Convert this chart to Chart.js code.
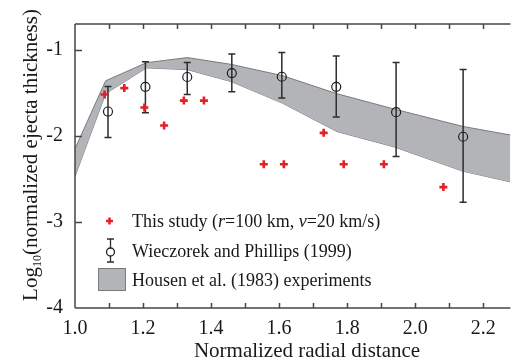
<!DOCTYPE html>
<html>
<head>
<meta charset="utf-8">
<script src="https://cdn.jsdelivr.net/npm/chart.js@4.4.1/dist/chart.umd.min.js"></script>
<style>
html,body{margin:0;padding:0;background:#fff;overflow:hidden;}
#wrap{width:517px;height:362px;position:relative;}
</style>
</head>
<body>
<div id="wrap"><canvas id="c" width="517" height="362"></canvas></div>
<script>
// ---- Data ----
const studyX = [1.087, 1.145, 1.204, 1.262, 1.320, 1.379, 1.555, 1.614, 1.731, 1.790, 1.908, 2.083];
const studyY = [-1.52, -1.445, -1.67, -1.88, -1.59, -1.59, -2.33, -2.33, -1.965, -2.33, -2.33, -2.595];

const wpX    = [1.097, 1.207, 1.330, 1.461, 1.608, 1.768, 1.944, 2.141];
const wpY    = [-1.717, -1.43, -1.316, -1.27, -1.313, -1.43, -1.725, -2.01];
const wpHigh = [-1.427, -1.14, -1.147, -1.05, -1.03, -1.073, -1.147, -1.228];
const wpLow  = [-2.02, -1.73, -1.52, -1.486, -1.56, -1.78, -2.24, -2.77];

const bandX     = [1.0, 1.09, 1.21, 1.33, 1.46, 1.61, 1.77, 1.94, 2.14, 2.28];
const bandUpper = [-2.15, -1.36, -1.15, -1.09, -1.17, -1.30, -1.51, -1.69, -1.89, -1.99];
const bandLower = [-2.47, -1.51, -1.21, -1.23, -1.37, -1.62, -1.95, -2.13, -2.41, -2.535];

const xTickValues = [1.0, 1.2, 1.4, 1.6, 1.8, 2.0, 2.2];
const yTickValues = [-1, -2, -3, -4];

const legendLabels = [
  [["This study (", ""], ["r", "italic"], ["=100 km, ", ""], ["v", "italic"], ["=20 km/s)", ""]],
  [["Wieczorek and Phillips (1999)", ""]],
  [["Housen et al. (1983) experiments", ""]]
];
const xTitle = "Normalized radial distance";
const yTitleParts = ["Log", "10", "(normalized ejecta thickness)"];

// ---- Styles ----
const SERIF = '"Liberation Serif", "Times New Roman", serif';
const RED = 'rgb(228,32,38)';
const BAND_FILL = 'rgb(178,180,183)';
const BAND_EDGE = 'rgb(120,122,125)';
const AXIS = 'rgb(70,70,70)';
const TEXT = 'rgb(25,25,25)';

const pts = (xs, ys) => xs.map((x, i) => ({x: x, y: ys[i]}));

const errorBars = {
  id: 'errorBars',
  beforeDatasetDraw(chart, args) {
    if (args.index !== 1) return;
    const ctx = chart.ctx, xs = chart.scales.x, ys = chart.scales.y;
    ctx.save();
    ctx.strokeStyle = 'rgb(45,45,45)';
    ctx.lineWidth = 1.5;
    wpX.forEach((xv, i) => {
      const px = xs.getPixelForValue(xv);
      const pt = ys.getPixelForValue(wpHigh[i]);
      const pb = ys.getPixelForValue(wpLow[i]);
      ctx.beginPath();
      ctx.moveTo(px, pt); ctx.lineTo(px, pb);
      ctx.moveTo(px - 3.5, pt); ctx.lineTo(px + 3.5, pt);
      ctx.moveTo(px - 3.5, pb); ctx.lineTo(px + 3.5, pb);
      ctx.stroke();
    });
    ctx.restore();
  }
};

const axesAndText = {
  id: 'axesAndText',
  afterDatasetsDraw(chart) {
    const ctx = chart.ctx, a = chart.chartArea, xs = chart.scales.x, ys = chart.scales.y;
    ctx.save();
    ctx.strokeStyle = AXIS;
    ctx.lineWidth = 1.5;
    ctx.beginPath();
    ctx.moveTo(a.left, a.top); ctx.lineTo(a.right, a.top);
    ctx.moveTo(a.left, a.top); ctx.lineTo(a.left, a.bottom);
    ctx.moveTo(a.left, a.bottom); ctx.lineTo(a.right, a.bottom);
    // x minor/major ticks, inward on bottom and top
    for (let k = 1; k <= 12; k++) {
      const v = 1.0 + k * 0.1;
      const px = Math.round(xs.getPixelForValue(v)) + 0.5;
      ctx.moveTo(px, a.bottom); ctx.lineTo(px, a.bottom - 5);
      ctx.moveTo(px, a.top); ctx.lineTo(px, a.top + 5);
    }
    yTickValues.forEach(v => {
      if (v === -4) return;
      const py = Math.round(ys.getPixelForValue(v)) + 0.5;
      ctx.moveTo(a.left, py); ctx.lineTo(a.left + 7, py);
    });
    ctx.stroke();

    // x title
    ctx.fillStyle = TEXT;
    ctx.font = '21px ' + SERIF;
    ctx.textAlign = 'center';
    ctx.textBaseline = 'alphabetic';
    ctx.fillText(xTitle, 307, 357);

    // y title with subscript
    ctx.save();
    ctx.translate(37, 155);
    ctx.rotate(-Math.PI / 2);
    ctx.font = '21px ' + SERIF;
    const w0 = ctx.measureText(yTitleParts[0]).width;
    ctx.font = '12px ' + SERIF;
    const w1 = ctx.measureText(yTitleParts[1]).width;
    ctx.font = '21px ' + SERIF;
    const w2 = ctx.measureText(yTitleParts[2]).width;
    let x0 = -(w0 + w1 + w2) / 2;
    ctx.textAlign = 'left';
    ctx.fillText(yTitleParts[0], x0, 0);
    ctx.font = '12px ' + SERIF;
    ctx.fillText(yTitleParts[1], x0 + w0, 4);
    ctx.font = '21px ' + SERIF;
    ctx.fillText(yTitleParts[2], x0 + w0 + w1, 0);
    ctx.restore();

    // legend
    const rows = [221, 251, 280];
    const tx = 132;
    ctx.textBaseline = 'middle';
    ctx.textAlign = 'left';
    legendLabels.forEach((parts, r) => {
      let x = tx;
      parts.forEach(p => {
        ctx.font = (p[1] ? 'italic ' : '') + '18px ' + SERIF;
        ctx.fillStyle = TEXT;
        ctx.fillText(p[0], x, rows[r] + 1);
        x += ctx.measureText(p[0]).width;
      });
    });
    // legend symbols
    // red cross
    ctx.strokeStyle = RED; ctx.lineWidth = 2.5;
    ctx.beginPath();
    ctx.moveTo(106, rows[0]); ctx.lineTo(113, rows[0]);
    ctx.moveTo(109.5, rows[0] - 3.5); ctx.lineTo(109.5, rows[0] + 3.5);
    ctx.stroke();
    // error bar symbol
    ctx.strokeStyle = 'rgb(45,45,45)'; ctx.lineWidth = 1.3;
    ctx.beginPath();
    ctx.moveTo(110.5, rows[1] - 12); ctx.lineTo(110.5, rows[1] + 11);
    ctx.moveTo(107, rows[1] - 12); ctx.lineTo(114, rows[1] - 12);
    ctx.moveTo(107, rows[1] + 11); ctx.lineTo(114, rows[1] + 11);
    ctx.stroke();
    ctx.fillStyle = '#fff';
    ctx.beginPath(); ctx.arc(110.5, rows[1] + 1, 4, 0, Math.PI * 2); ctx.fill();
    ctx.strokeStyle = 'rgb(30,30,30)';
    ctx.stroke();
    // gray square
    ctx.fillStyle = BAND_FILL;
    ctx.fillRect(98, 268, 28, 23);
    ctx.strokeStyle = BAND_EDGE; ctx.lineWidth = 1;
    ctx.strokeRect(98.5, 268.5, 27, 22);
    ctx.restore();
  }
};

new Chart(document.getElementById('c'), {
  type: 'scatter',
  data: {
    datasets: [
      { label: 'This study', data: pts(studyX, studyY), order: 0,
        pointStyle: 'cross', pointRadius: 4, borderColor: RED, backgroundColor: RED,
        pointBorderWidth: 2.6, showLine: false },
      { label: 'Wieczorek and Phillips (1999)', data: pts(wpX, wpY), order: 1,
        pointStyle: 'circle', pointRadius: 4.5, borderColor: 'rgb(30,30,30)',
        backgroundColor: 'rgba(255,255,255,0)', pointBorderWidth: 1.2, showLine: false },
      { label: 'Housen upper', data: pts(bandX, bandUpper), order: 2,
        showLine: true, pointRadius: 0, borderColor: BAND_EDGE, borderWidth: 1,
        backgroundColor: BAND_FILL, fill: '+1', tension: 0 },
      { label: 'Housen lower', data: pts(bandX, bandLower), order: 3,
        showLine: true, pointRadius: 0, borderColor: BAND_EDGE, borderWidth: 1,
        fill: false, tension: 0 }
    ]
  },
  options: {
    responsive: false,
    animation: false,
    events: [],
    layout: { padding: { top: 10, right: 0, left: 0, bottom: 0 } },
    plugins: { legend: { display: false }, tooltip: { enabled: false } },
    scales: {
      x: {
        type: 'linear', min: 1.0, max: 2.28,
        afterFit(s) { s.height = 54; },
        afterBuildTicks(s) { s.ticks = xTickValues.map(v => ({value: v})); },
        grid: { display: false, drawTicks: false },
        border: { display: false },
        ticks: { color: TEXT, font: { family: SERIF, size: 20 }, padding: 9,
                 maxRotation: 0, autoSkip: false,
                 callback: v => v.toFixed(1) }
      },
      y: {
        type: 'linear', min: -4, max: -0.7,
        afterFit(s) { s.width = 75; },
        afterBuildTicks(s) { s.ticks = yTickValues.map(v => ({value: v})); },
        grid: { display: false, drawTicks: false },
        border: { display: false },
        ticks: { color: TEXT, font: { family: SERIF, size: 20 }, padding: 12,
                 callback: v => String(v) }
      }
    }
  },
  plugins: [errorBars, axesAndText]
});
</script>
</body>
</html>
